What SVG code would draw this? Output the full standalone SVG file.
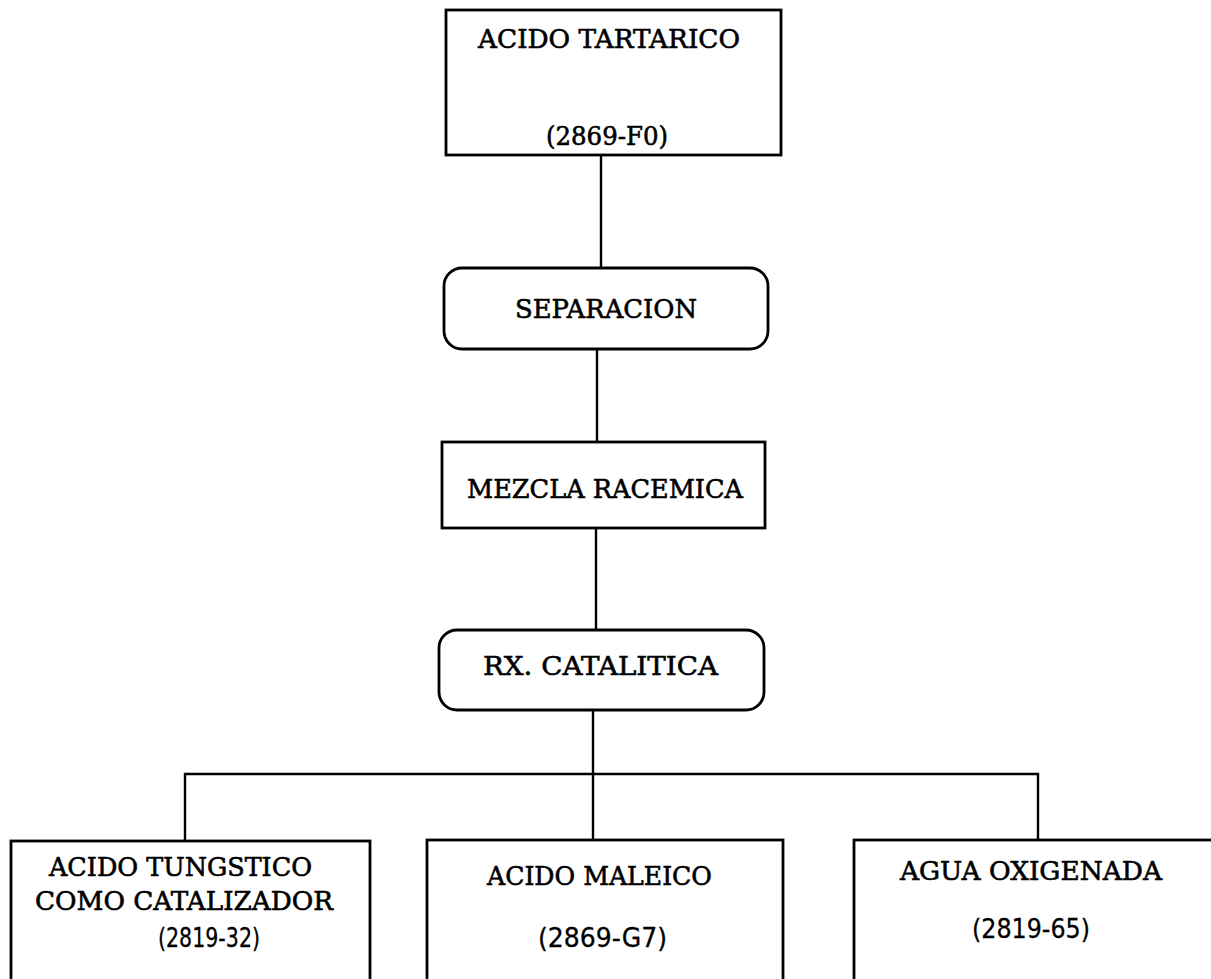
<svg xmlns="http://www.w3.org/2000/svg" width="1211" height="979" viewBox="0 0 1211 979">
  <style>
    .box { fill: #ffffff; stroke: #000000; stroke-width: 2.8; }
    .link { fill: none; stroke: #000000; stroke-width: 2.4; }
    .lbl { font-family: "DejaVu Serif", "Liberation Serif", serif; font-size: 26px; fill: #000000; stroke: #000000; stroke-width: 0.6; }
    .code { font-family: "DejaVu Sans", "Liberation Sans", sans-serif; font-size: 27px; fill: #000000; stroke: #000000; stroke-width: 0.3; }
  </style>
  <rect width="1211" height="979" fill="#ffffff"/>

  <!-- connectors -->
  <g id="connectors">
    <line class="link" x1="601" y1="155" x2="601" y2="268"/>
    <line class="link" x1="597" y1="349" x2="597" y2="442"/>
    <line class="link" x1="596" y1="528" x2="596" y2="630"/>
    <line class="link" x1="593" y1="710" x2="593" y2="840"/>
    <polyline class="link" points="185,841 185,774 1038,774 1038,840"/>
  </g>

  <g id="acido-tartarico">
    <rect class="box" x="446" y="10" width="335" height="145"/>
    <text class="lbl" x="478" y="48" textLength="262" lengthAdjust="spacingAndGlyphs">ACIDO TARTARICO</text>
    <text class="lbl" x="546" y="145" textLength="122" lengthAdjust="spacingAndGlyphs">(2869-F0)</text>
  </g>

  <g id="separacion">
    <rect class="box" x="444" y="268" width="324" height="81" rx="18" ry="18"/>
    <text class="lbl" x="515" y="318" textLength="182" lengthAdjust="spacingAndGlyphs">SEPARACION</text>
  </g>

  <g id="mezcla-racemica">
    <rect class="box" x="442" y="442" width="323" height="86"/>
    <text class="lbl" x="467" y="498" textLength="276" lengthAdjust="spacingAndGlyphs">MEZCLA RACEMICA</text>
  </g>

  <g id="rx-catalitica">
    <rect class="box" x="439" y="630" width="325" height="80" rx="18" ry="18"/>
    <text class="lbl" x="483" y="675" textLength="235" lengthAdjust="spacingAndGlyphs">RX. CATALITICA</text>
  </g>

  <g id="acido-tungstico">
    <rect class="box" x="11" y="841" width="359" height="150"/>
    <text class="lbl" x="49" y="876" textLength="263" lengthAdjust="spacingAndGlyphs">ACIDO TUNGSTICO</text>
    <text class="lbl" x="35" y="910" textLength="298" lengthAdjust="spacingAndGlyphs">COMO CATALIZADOR</text>
    <text class="code" x="158" y="947" textLength="102" lengthAdjust="spacingAndGlyphs">(2819-32)</text>
  </g>

  <g id="acido-maleico">
    <rect class="box" x="427" y="840" width="356" height="150"/>
    <text class="lbl" x="487" y="885" textLength="225" lengthAdjust="spacingAndGlyphs">ACIDO MALEICO</text>
    <text class="code" x="538" y="947" textLength="129" lengthAdjust="spacingAndGlyphs">(2869-G7)</text>
  </g>

  <g id="agua-oxigenada">
    <rect class="box" x="854" y="840" width="380" height="150"/>
    <text class="lbl" x="900" y="880" textLength="262" lengthAdjust="spacingAndGlyphs">AGUA OXIGENADA</text>
    <text class="code" x="972" y="938" textLength="118" lengthAdjust="spacingAndGlyphs">(2819-65)</text>
  </g>
</svg>
